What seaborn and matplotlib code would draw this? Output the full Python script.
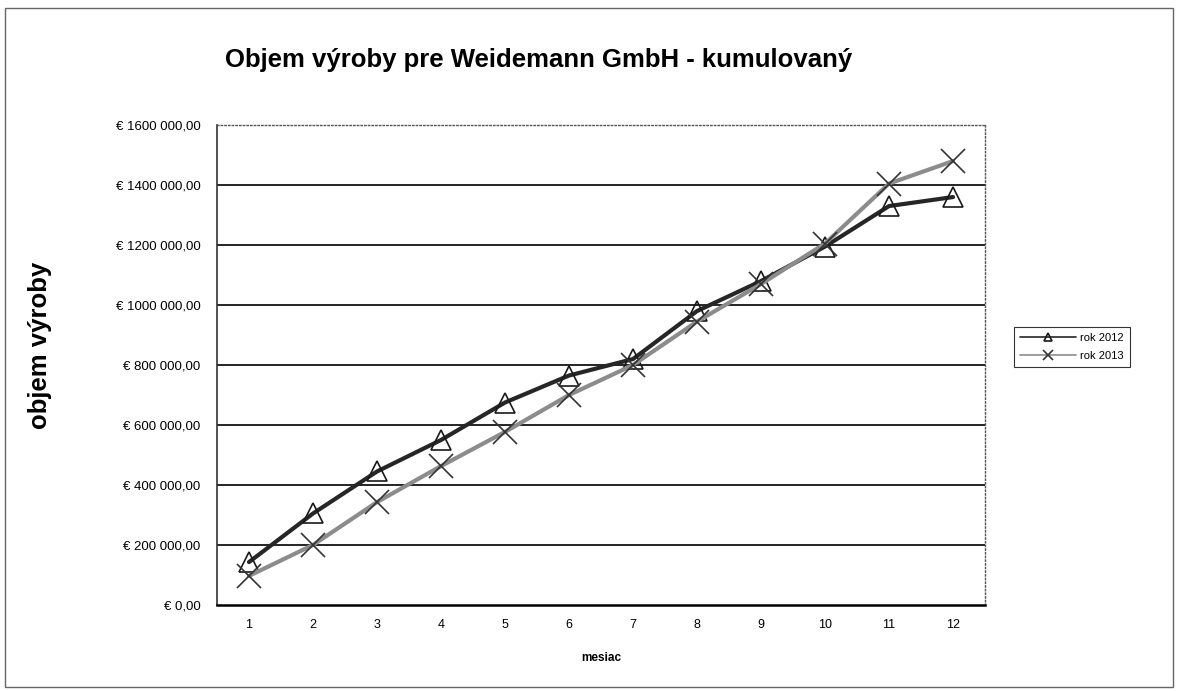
import pandas as pd
import matplotlib
matplotlib.use("Agg")
import matplotlib.pyplot as plt
import seaborn as sns
from matplotlib.ticker import FuncFormatter, MultipleLocator, FixedLocator

# Data (cumulative production volume, EUR)
months = list(range(1, 13))
rok_2012 = [143000, 305000, 445000, 550000, 675000, 765000, 820000, 980000, 1080000, 1195000, 1330000, 1360000]
rok_2013 = [97000, 200000, 343000, 463000, 577000, 700000, 800000, 945000, 1070000, 1205000, 1405000, 1480000]
series_names = ["rok 2012", "rok 2013"]
y_ticks = [0, 200000, 400000, 600000, 800000, 1000000, 1200000, 1400000, 1600000]

df = pd.DataFrame({
    "mesiac": months * 2,
    "objem": rok_2012 + rok_2013,
    "rok": [series_names[0]] * 12 + [series_names[1]] * 12,
})

sns.set_style("white")
plt.rcParams['font.family'] = ['Liberation Sans', 'DejaVu Sans']
plt.rcParams['text.color'] = 'black'
plt.rcParams['xtick.color'] = 'black'
plt.rcParams['ytick.color'] = 'black'
plt.rcParams['axes.labelcolor'] = 'black'

fig = plt.figure(figsize=(11.78, 6.91), dpi=100)
ax = fig.add_axes([0.1842, 0.1245, 0.652, 0.6945])

# horizontal gridlines
for v in y_ticks[1:-1]:
    ax.axhline(v, color="black", linewidth=1.2, zorder=0)

sns.lineplot(data=df[df["rok"] == "rok 2012"], x="mesiac", y="objem", ax=ax,
             color="#262626", linewidth=3, marker="^", markersize=15,
             markerfacecolor="none", markeredgecolor="#1a1a1a", markeredgewidth=1.2,
             label="rok 2012")
sns.lineplot(data=df[df["rok"] == "rok 2013"], x="mesiac", y="objem", ax=ax,
             color="#8c8c8c", linewidth=3, marker="x", markersize=17,
             markeredgecolor="#333333", markeredgewidth=1.2,
             label="rok 2013")

ax.set_xlim(0.5, 12.5)
ax.set_ylim(0, 1600000)


def euro(v, pos):
    v = int(round(v))
    if v == 0:
        return "€ 0,00"
    return f"€ {v // 1000} {v % 1000:03d},00"


ax.yaxis.set_major_locator(FixedLocator(y_ticks))
ax.yaxis.set_major_formatter(FuncFormatter(euro))
ax.xaxis.set_major_locator(FixedLocator(months))
ax.xaxis.set_minor_locator(MultipleLocator(1, offset=0.5))
ax.tick_params(axis="x", which="major", length=0, labelsize=9, pad=10)
ax.tick_params(axis="x", which="minor", length=4, width=1, direction="out", color="black")
ax.tick_params(axis="y", which="major", length=5, width=1, direction="out", labelsize=9.5,
               pad=7, color="black")

for side in ["top", "right"]:
    ax.spines[side].set_color("#555555")
    ax.spines[side].set_linestyle(":")
    ax.spines[side].set_linewidth(1)
ax.spines["left"].set_color("#333333")
ax.spines["left"].set_linewidth(1.2)
ax.spines["bottom"].set_color("black")
ax.spines["bottom"].set_linewidth(1.8)

ax.set_xlabel("mesiac", fontsize=8.5, fontweight="bold", labelpad=15)
ax.set_ylabel("")
fig.text(0.034, 0.50, "objem výroby", rotation=90, fontsize=18.5, fontweight="bold",
         ha="center", va="center")
fig.text(0.457, 0.913, "Objem výroby pre Weidemann GmbH - kumulovaný",
         fontsize=18.5, fontweight="bold", ha="center", va="center")

leg = ax.legend(loc="center left", bbox_to_anchor=(0.861, 0.498), bbox_transform=fig.transFigure,
                fontsize=8, frameon=True, fancybox=False, markerscale=0.4,
                handlelength=5, borderpad=0.55, labelspacing=0.75, handletextpad=0.4,
                borderaxespad=0)
leg.get_frame().set_edgecolor("black")
leg.get_frame().set_linewidth(0.8)
for line in leg.get_lines():
    line.set_linewidth(1.2)

# outer chart border
fig.patches.append(plt.Rectangle((0.004, 0.006), 0.992, 0.982, transform=fig.transFigure,
                                 fill=False, edgecolor="#666666", linewidth=1))

fig.savefig("out.png", dpi=100)
